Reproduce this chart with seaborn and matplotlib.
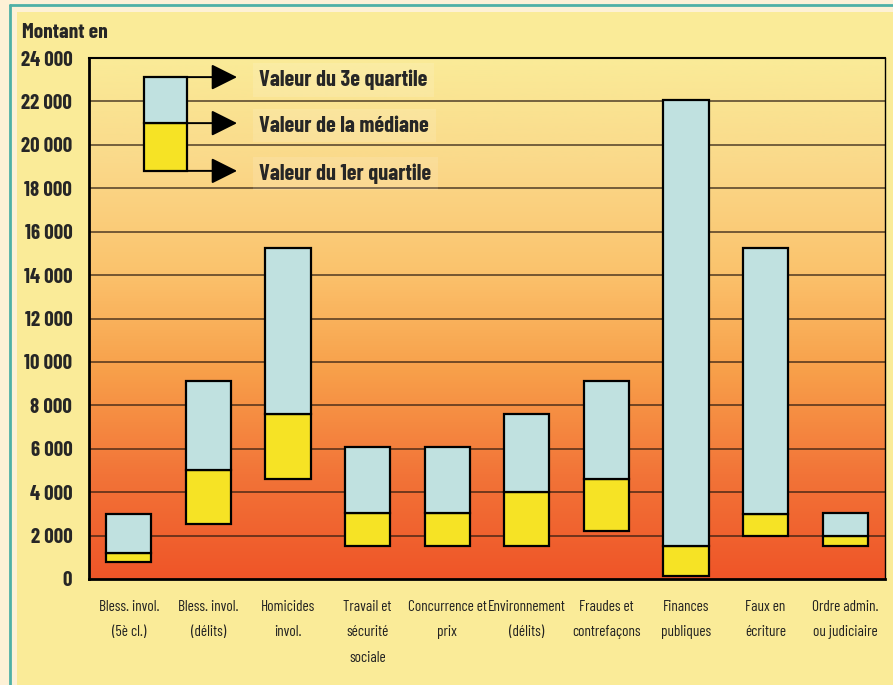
import numpy as np
import pandas as pd
import matplotlib
matplotlib.use("Agg")
import matplotlib.pyplot as plt
import seaborn as sns
from matplotlib import font_manager
from matplotlib.colors import LinearSegmentedColormap
from matplotlib.patches import Rectangle
from matplotlib.lines import Line2D
from matplotlib.ticker import FixedLocator, NullFormatter

# Data (montant des amendes, quartiles et médiane)
categories = [
    "Bless. invol.\n(5è cl.)",
    "Bless. invol.\n(délits)",
    "Homicides\ninvol.",
    "Travail et\nsécurité\nsociale",
    "Concurrence et\nprix",
    "Environnement\n(délits)",
    "Fraudes et\ncontrefaçons",
    "Finances\npubliques",
    "Faux en\nécriture",
    "Ordre admin.\nou judiciaire",
]
q1 = [770, 2540, 4600, 1530, 1530, 1530, 2230, 150, 2000, 1530]
median = [1220, 5000, 7600, 3050, 3050, 4000, 4600, 1530, 3000, 2000]
q3 = [3000, 9100, 15250, 6100, 6100, 7600, 9100, 22050, 15250, 3050]

y_ticks = list(range(0, 24001, 2000))
y_tick_labels = [f"{v:,}".replace(",", " ") for v in y_ticks]

legend_labels = ["Valeur du 3e quartile", "Valeur de la médiane", "Valeur du 1er quartile"]
legend_values = [23120, 21000, 18800]

# Fonts: a condensed family if one is installed
names = {f.name for f in font_manager.fontManager.ttflist}
cond = next((n for n in ["Barlow Condensed", "Archivo Narrow", "Asap Condensed"] if n in names),
            "DejaVu Sans")

sns.set_style("white")
plt.rcParams["font.family"] = [cond, "DejaVu Sans"]

bg_yellow = "#FAEB98"
blue = "#C0E1E0"
yellow = "#F6E325"

df = pd.DataFrame({"cat": categories, "q1": q1, "med": median, "q3": q3})
df["low"] = df["med"] - df["q1"]
df["high"] = df["q3"] - df["med"]

fig = plt.figure(figsize=(8.93, 6.85), dpi=100, facecolor=bg_yellow)

# Outer frame: cream bands and teal lines
fig.patches.append(Rectangle((0, 1 - 12 / 685), 1, 12 / 685, transform=fig.transFigure,
                             facecolor="#FDF1D6", edgecolor="none", zorder=0))
fig.patches.append(Rectangle((0, 0), 17 / 893, 1, transform=fig.transFigure,
                             facecolor="#FDF1D6", edgecolor="none", zorder=0))
fig.lines.append(Line2D([10 / 893, 1], [1 - 5 / 685, 1 - 5 / 685], transform=fig.transFigure,
                        color="#4FB0A6", lw=2))
fig.lines.append(Line2D([10 / 893, 10 / 893], [0, 1 - 5 / 685], transform=fig.transFigure,
                        color="#4FB0A6", lw=2))

ax = fig.add_axes([89 / 893, 106 / 685, 796 / 893, 521 / 685])

# Gradient background of the plot area
grad_cmap = LinearSegmentedColormap.from_list(
    "grad", ["#EF5528", "#F27438", "#F8A04A", "#FBC46E", "#FAD98A", "#FAEB98"])
grad = np.linspace(0, 1, 256).reshape(-1, 1)
ax.imshow(grad, cmap=grad_cmap, origin="lower", aspect="auto",
          extent=[-0.5, 9.5, 0, 24000], zorder=-2)

# Boxes: Q1 -> median (yellow) and median -> Q3 (blue)
sns.barplot(data=df, x="cat", y="low", bottom=df["q1"], color=yellow, saturation=1,
            width=0.57, edgecolor="black", linewidth=1.6, ax=ax, zorder=3)
sns.barplot(data=df, x="cat", y="high", bottom=df["med"], color=blue, saturation=1,
            width=0.57, edgecolor="black", linewidth=1.6, ax=ax, zorder=3)

ax.set_xlim(-0.5, 9.5)
ax.set_ylim(0, 24000)
ax.set_xlabel("")
ax.set_ylabel("")

# Horizontal grid
for v in y_ticks[1:-1]:
    ax.axhline(v, color="#2a1a10", lw=1.2, alpha=0.75, zorder=1)

# Y axis
ax.set_yticks(y_ticks)
ax.set_yticklabels(y_tick_labels, fontsize=15, fontweight="bold")
ax.tick_params(axis="y", direction="out", length=5, width=1.5, pad=7)

# X axis: ticks between categories, labels at centers
ax.xaxis.set_major_locator(FixedLocator(np.arange(0.5, 9, 1)))
ax.xaxis.set_major_formatter(NullFormatter())
ax.xaxis.set_minor_locator(FixedLocator(np.arange(10)))
ax.set_xticklabels(categories, minor=True, fontsize=11, linespacing=2.05, color="#222222")
ax.tick_params(axis="x", which="major", direction="in", length=5, width=1.5)
ax.tick_params(axis="x", which="minor", length=0, pad=15)

for side, lw in [("left", 2), ("bottom", 2), ("top", 1.5), ("right", 1)]:
    ax.spines[side].set_visible(True)
    ax.spines[side].set_color("black")
    ax.spines[side].set_linewidth(lw)

# Legend drawn inside the plot
lx0, lx1 = 0.19, 0.735
ax.add_patch(Rectangle((lx0, legend_values[2]), lx1 - lx0, legend_values[1] - legend_values[2],
                       facecolor=yellow, edgecolor="black", lw=1.6, zorder=4))
ax.add_patch(Rectangle((lx0, legend_values[1]), lx1 - lx0, legend_values[0] - legend_values[1],
                       facecolor=blue, edgecolor="black", lw=1.6, zorder=4))
for label, val in zip(legend_labels, legend_values):
    ax.annotate("", xy=(1.36, val), xytext=(lx1, val),
                arrowprops=dict(arrowstyle="-|>,head_length=0.8,head_width=0.4",
                                mutation_scale=20, color="black", lw=1.4,
                                shrinkA=0, shrinkB=0), zorder=5)
    ax.text(1.64, val - 120, label, fontsize=16, fontweight="bold", va="center", ha="left",
            zorder=5, bbox=dict(boxstyle="square,pad=0.3", facecolor="white",
                                alpha=0.12, edgecolor="none"))

fig.text(22 / 893, 1 - 32 / 685, "Montant en", fontsize=15.5, fontweight="bold",
         ha="left", va="center")

plt.savefig("out.png", dpi=100, facecolor=fig.get_facecolor())
plt.close()
